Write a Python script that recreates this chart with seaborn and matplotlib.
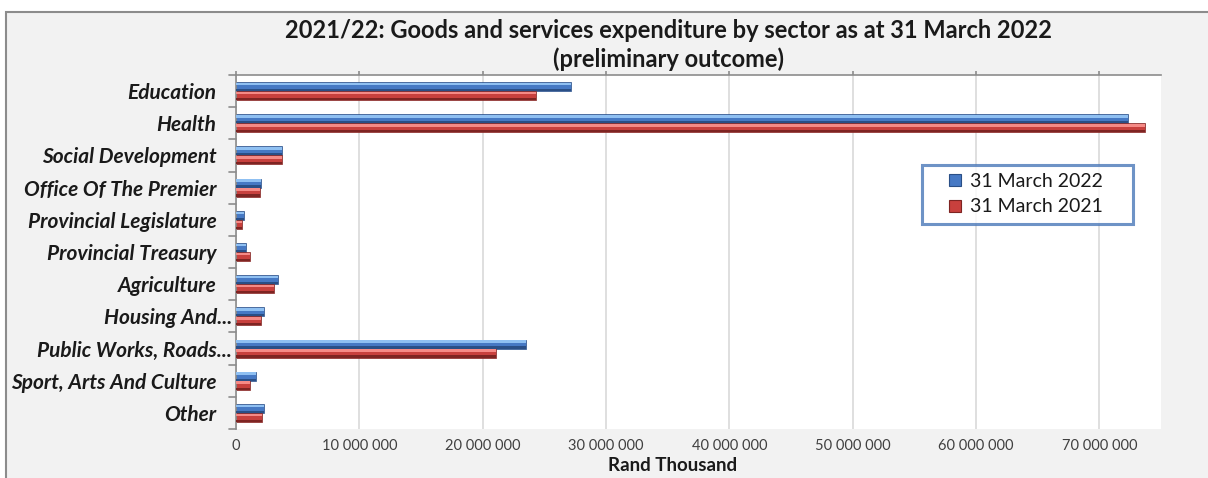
import numpy as np
import pandas as pd
import matplotlib.pyplot as plt
import matplotlib.patches as mpatches
from matplotlib.lines import Line2D
import seaborn as sns

sns.set_style('white')
plt.rcParams['font.family'] = ['Lato', 'DejaVu Sans']

# 数据
sectors = ['Education', 'Health', 'Social Development', 'Office Of The Premier',
           'Provincial Legislature', 'Provincial Treasury', 'Agriculture',
           'Housing And...', 'Public Works, Roads...', 'Sport, Arts And Culture', 'Other']
exp_2022 = [27200000, 72300000, 3700000, 2000000, 660000, 850000, 3400000,
            2270000, 23500000, 1600000, 2270000]
exp_2021 = [24300000, 73700000, 3700000, 1950000, 500000, 1100000, 3050000,
            2050000, 21050000, 1100000, 2100000]
series = ['31 March 2022', '31 March 2021']
colors = ['#4679c4', '#c8403d']
light = ['#8fc0f2', '#f58a86']
dark = ['#2a4f86', '#7e2422']
x_ticks = [0, 10000000, 20000000, 30000000, 40000000, 50000000, 60000000, 70000000]

df = pd.DataFrame({
    'sector': sectors * 2,
    'value': exp_2022 + exp_2021,
    'series': [series[0]] * len(sectors) + [series[1]] * len(sectors),
})

fig = plt.figure(figsize=(12.08, 4.78), dpi=100)
fig.patch.set_facecolor('white')
frame = mpatches.Rectangle((6 / 1208, -0.1), 1.2, 1 - 12 / 478 + 0.1,
                           transform=fig.transFigure, facecolor='#f2f2f2',
                           edgecolor='#8c8c8c', linewidth=1.5, zorder=-10)
fig.patches.append(frame)

ax = fig.add_axes([236 / 1208, 1 - 429 / 478, (1161 - 236) / 1208, (429 - 75) / 478])
ax.set_zorder(1)
ax.set_facecolor('white')

sns.barplot(data=df, y='sector', x='value', hue='series', orient='h',
            palette=colors, width=0.56, ax=ax, legend=False,
            edgecolor='none', saturation=1)

# 立体效果：上亮下暗
for i, cont in enumerate(ax.containers):
    for p in cont:
        x0, y0 = p.get_x(), p.get_y()
        w, h = p.get_width(), p.get_height()
        p.set_edgecolor(dark[i])
        p.set_linewidth(0.5)
        ax.add_patch(mpatches.Rectangle((x0, y0 + h * 0.08), w, h * 0.28,
                                        facecolor=light[i], edgecolor='none', zorder=3))
        ax.add_patch(mpatches.Rectangle((x0, y0 + h * 0.76), w, h * 0.24,
                                        facecolor=dark[i], edgecolor='none', zorder=3))

ax.set_xlim(0, 75000000)
ax.set_ylim(len(sectors) - 0.5, -0.5)
ax.set_xticks(x_ticks)
ax.set_xticklabels([f'{v:,}'.replace(',', ' ') for v in x_ticks],
                   fontsize=10.5, color='#404040')
ax.xaxis.grid(True, color='#d9d9d9', linewidth=1.2)
ax.set_axisbelow(True)
ax.tick_params(axis='x', bottom=False, top=True, labelbottom=True, labeltop=False,
               length=3, width=1.2, color='#8c8c8c', pad=4)

ax.set_yticks(np.arange(len(sectors)))
ax.set_yticklabels(sectors, fontsize=15, fontweight='bold', fontstyle='italic', color='#1a1a1a')
ax.tick_params(axis='y', length=0)
for lab, tk in zip(sectors, ax.yaxis.get_major_ticks()):
    tk.set_pad(3 if lab.endswith('...') else 14)
# 分类边界刻度
for b in np.arange(-0.5, len(sectors), 1.0):
    ax.plot([-0.008, 0], [b, b], transform=ax.get_yaxis_transform(),
            color='#8c8c8c', linewidth=1.2, clip_on=False)

for side in ['right', 'bottom']:
    ax.spines[side].set_visible(False)
for side in ['left', 'top']:
    ax.spines[side].set_color('#8c8c8c')
    ax.spines[side].set_linewidth(1.2)

ax.set_ylabel('')
ax.set_xlabel('Rand Thousand', fontsize=13.5, fontweight='bold', color='#1a1a1a')
ax.xaxis.set_label_coords((673 - 236) / 925, -(457 - 429) / 354)

fig.text(668 / 1208, 1 - 31 / 478, '2021/22: Goods and services expenditure by sector as at 31 March 2022',
         ha='center', va='center', fontsize=17, fontweight='bold', color='#1a1a1a')
fig.text(668 / 1208, 1 - 59 / 478, '(preliminary outcome)',
         ha='center', va='center', fontsize=17, fontweight='bold', color='#1a1a1a')

handles = [Line2D([], [], linestyle='none', marker='s', markersize=8,
                  markerfacecolor=colors[i], markeredgecolor=dark[i], markeredgewidth=0.8,
                  label=series[i]) for i in range(2)]
lx0 = (922 - 236) / 925
ly1 = 1 - (165 - 75) / 354
leg = ax.legend(handles=handles, loc='upper left', mode='expand',
                bbox_to_anchor=(lx0, ly1 - 60 / 354, (1133 - 922) / 925, 60 / 354),
                fontsize=14, frameon=True, fancybox=False, handlelength=2.6,
                handletextpad=-0.55, borderpad=0.42, labelspacing=0.42, borderaxespad=0)
leg.get_frame().set_edgecolor('#4a78b8')
leg.get_frame().set_linewidth(2.2)
for t in leg.get_texts():
    t.set_color('#1a1a1a')

fig.savefig('out.png', dpi=100, facecolor=fig.get_facecolor())
